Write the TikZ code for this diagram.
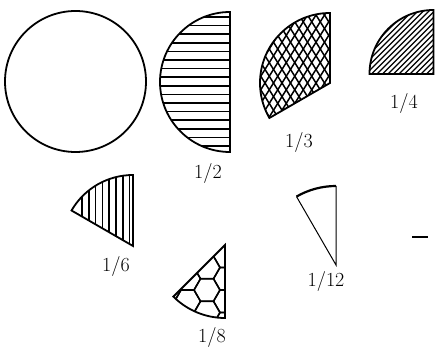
\documentclass[tikz,border=0pt]{standalone}
\begin{document}
\begin{tikzpicture}[x=1pt, y=1pt, line width=1.8pt, font=\fontsize{20}{24}\selectfont]
  \tikzset{hatch/.style={line width=1.5pt}, frac/.style={inner sep=0pt}}
  \useasboundingbox (0,0) rectangle (436,348);
  \draw (75.5,266.5) circle (70.5pt);
  \begin{scope}
    \clip (230,336) arc[start angle=90, end angle=270, radius=70] -- cycle;
    \foreach \k in {0,...,15} {
      \draw[hatch] (150,{331-8.6*\k}) -- (240,{331-8.6*\k});
    }
  \end{scope}
  \draw (230,336) arc[start angle=90, end angle=270, radius=70] -- cycle;
  \begin{scope}
    \clip (330,265) -- (330,335) arc[start angle=90, end angle=210, radius=70] -- cycle;
    \foreach \x in {180,188.5,...,420} {
      \draw[hatch] (\x-60,169) -- (\x+60,361);
      \draw[hatch] (\x-60,361) -- (\x+60,169);
    }
  \end{scope}
  \draw (330,265) -- (330,335) arc[start angle=90, end angle=210, radius=70] -- cycle;
  \begin{scope}
    \clip (433.5,274) -- (433.5,338) arc[start angle=90, end angle=180, radius=64] -- cycle;
    \foreach \x in {300,305.5,...,440} {
      \draw[line width=1.2pt] (\x,274) -- (\x+70,344);
    }
  \end{scope}
  \draw (433.5,274) -- (433.5,338) arc[start angle=90, end angle=180, radius=64] -- cycle;
  \begin{scope}
    \clip (133,102) -- (133,173) arc[start angle=90, end angle=150, radius=71] -- cycle;
    \foreach \k in {0,...,7} {
      \draw[hatch] ({82+6.8*\k},100) -- ({82+6.8*\k},180);
    }
  \end{scope}
  \draw (133,102) -- (133,173) arc[start angle=90, end angle=150, radius=71] -- cycle;
  \begin{scope}
    \clip (225,103) -- (225,30) arc[start angle=270, end angle=225, radius=73] -- cycle;
    \foreach \i in {-3,...,3} {
      \foreach \j in {-4,...,4} {
        \draw[hatch, shift={({207+19.5*\i},{58+22.5*\j+11.25*\i})}]
          (0:13) -- (60:13) -- (120:13) -- (180:13) -- (240:13) -- (300:13) -- cycle;
      }
    }
  \end{scope}
  \draw (225,103) -- (225,30) arc[start angle=270, end angle=225, radius=73] -- cycle;
  \draw[line width=1pt] (336,162) -- (336,83) -- ++(120:79);
  \draw[line width=2.2pt] (336,162) arc[start angle=90, end angle=120, radius=79];
  \draw[line width=1.2pt] (412,111) -- (428,111);
  \node[frac] (half) at (208,174) {1/2};
  \node[frac] (third) at (299,205) {1/3};
  \node[frac] (quarter) at (404,244) {1/4};
  \node[frac] (sixth) at (116,81) {1/6};
  \node[frac] (eighth) at (212,11) {1/8};
  \node[frac] (twelfth) at (326,66) {1/12};
\end{tikzpicture}
\end{document}
